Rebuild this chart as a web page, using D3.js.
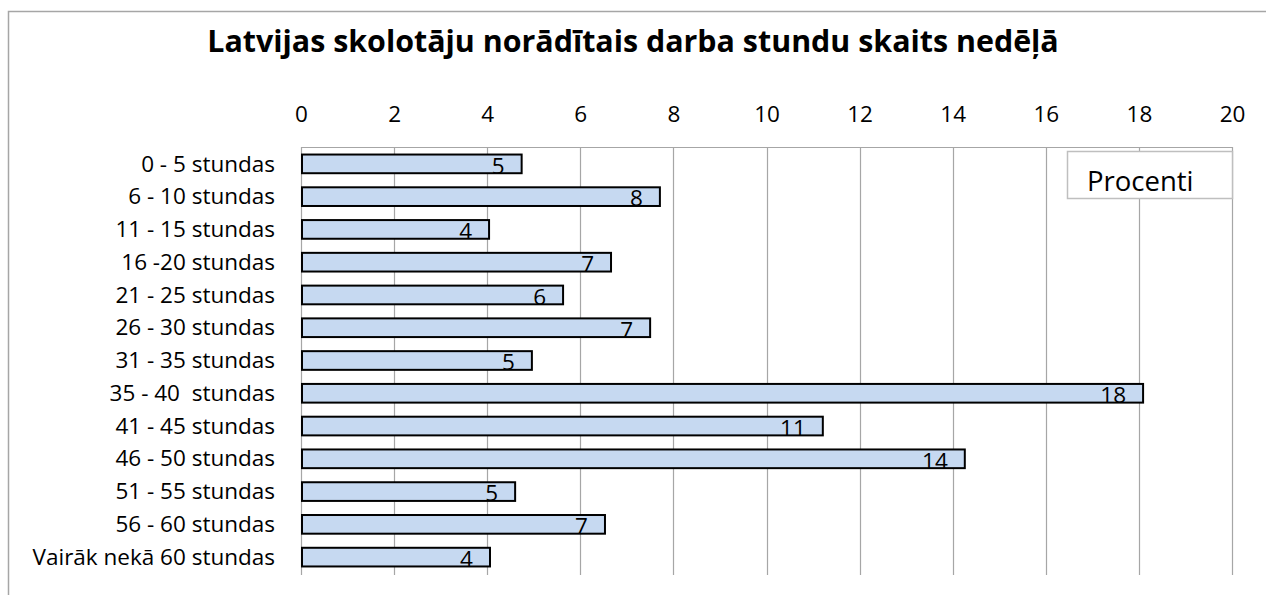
<!DOCTYPE html>
<html><head><meta charset="utf-8">
<script src="https://cdn.jsdelivr.net/npm/d3@7"></script>
<style>
body{margin:0;background:#fff;}
svg{display:block;font-family:"Open Sans",sans-serif;}
</style></head>
<body><svg id="c" width="1266" height="595"></svg>
<script>
const title = "Latvijas skolotāju norādītais darba stundu skaits nedēļā";
const categories = ["0 - 5 stundas","6 - 10 stundas","11 - 15 stundas","16 -20 stundas","21 - 25 stundas","26 - 30 stundas","31 - 35 stundas","35 - 40  stundas","41 - 45 stundas","46 - 50 stundas","51 - 55 stundas","56 - 60 stundas","Vairāk nekā 60 stundas"];
const values = [4.74, 7.71, 4.04, 6.66, 5.63, 7.5, 4.96, 18.09, 11.21, 14.26, 4.6, 6.53, 4.06];
const labels = ["5","8","4","7","6","7","5","18","11","14","5","7","4"];
const xTicks = [0,2,4,6,8,10,12,14,16,18,20];
const legendLabel = "Procenti";

const svg = d3.select("#c");
const L = 301, R = 1232, T = 147, B = 574;
const FS = 22.5;

svg.append("rect").attr("x",8.5).attr("y",11.5).attr("width",1300).attr("height",700)
  .attr("fill","none").attr("stroke","#a6a6a6").attr("stroke-width",1.5);

svg.append("text").attr("x",633).attr("y",52).attr("text-anchor","middle")
  .attr("font-weight","bold").attr("font-size",30.4).attr("fill","#000").text(title);

const x = d3.scaleLinear().domain([0,20]).range([L,R]);
const y = d3.scaleBand().domain(categories).range([T,B]).paddingInner(0.43).paddingOuter(0.23);

// gridlines
svg.append("g").selectAll("line").data(xTicks).join("line")
  .attr("x1",d=>Math.round(x(d))+0.5).attr("x2",d=>Math.round(x(d))+0.5)
  .attr("y1",T).attr("y2",B+1).attr("stroke","#a6a6a6").attr("stroke-width",1.2);
svg.append("line").attr("x1",L).attr("x2",R+1).attr("y1",T+0.5).attr("y2",T+0.5)
  .attr("stroke","#a6a6a6").attr("stroke-width",1.2);

// top axis labels
const xAxis = d3.axisTop(x).tickValues(xTicks).tickSize(0).tickPadding(0).tickFormat(d3.format("d"));
const gx = svg.append("g").attr("transform",`translate(0,122)`).call(xAxis);
gx.select(".domain").remove();
gx.selectAll("text").attr("font-size",FS).attr("font-family","Open Sans").attr("fill","#000").attr("dy",0);

// category labels
const yAxis = d3.axisLeft(y).tickSize(0).tickPadding(0);
const gy = svg.append("g").attr("transform",`translate(275,0)`).call(yAxis);
gy.select(".domain").remove();
gy.selectAll("text").attr("font-size",FS).attr("font-family","Open Sans").attr("fill","#000").attr("dy","0.34em")
  .style("white-space","pre");

// bars
svg.append("g").selectAll("rect").data(values).join("rect")
  .attr("x",x(0)+1).attr("y",(d,i)=>y(categories[i]))
  .attr("width",d=>x(d)-x(0)-1).attr("height",y.bandwidth())
  .attr("fill","#c6d9f1").attr("stroke","#000").attr("stroke-width",2);

// value labels
svg.append("g").selectAll("text").data(values).join("text")
  .attr("x",d=>x(d)-17).attr("y",(d,i)=>y(categories[i])+y.bandwidth()+0.5)
  .attr("text-anchor","end").attr("font-size",FS).attr("fill","#000")
  .text((d,i)=>labels[i]);

// legend
svg.append("rect").attr("x",1067.5).attr("y",151.5).attr("width",165).attr("height",47)
  .attr("fill","#fff").attr("stroke","#bfbfbf").attr("stroke-width",1.5);
svg.append("text").attr("x",1087).attr("y",191).attr("font-size",27.5).attr("fill","#000").text(legendLabel);
</script></body></html>
